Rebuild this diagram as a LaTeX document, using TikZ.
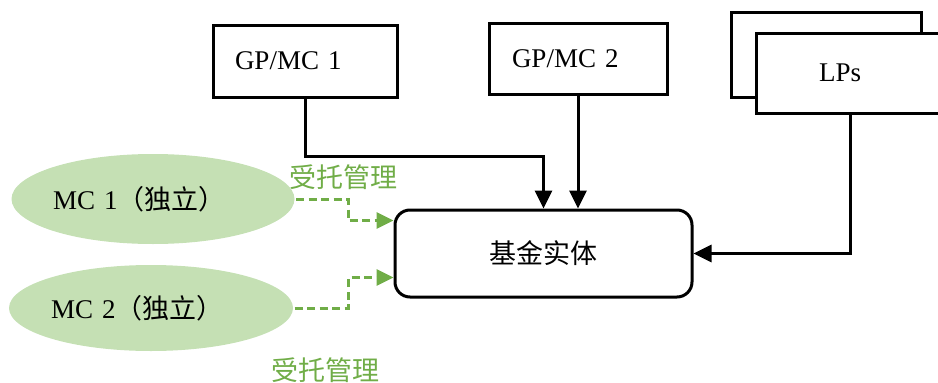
\documentclass[tikz,border=0pt]{standalone}
\usepackage{fontspec}
\setmainfont{Liberation Serif}
\newfontfamily\cjk{Noto Sans CJK SC}
\usetikzlibrary{arrows.meta,calc,shapes.geometric}
\definecolor{lgreen}{HTML}{C5E0B4}
\definecolor{dgreen}{HTML}{70AD47}
\begin{document}
\begin{tikzpicture}[x=1pt,y=-1pt,line width=3pt,
  every node/.style={font=\fontsize{27}{31}\selectfont},
  box/.style={draw,fill=white,line width=3pt,align=left,inner ysep=0pt},
  ell/.style={ellipse,fill=lgreen,draw=none,inner sep=0pt,text width=200pt,align=left},
  arr/.style={-{Triangle[length=18pt,width=17pt]},line width=3pt},
  garr/.style={-{Triangle[length=17pt,width=16pt]},draw=dgreen,line width=3pt,dash pattern=on 8pt off 4.5pt},
  glabel/.style={text=dgreen}]
\useasboundingbox (0,0) rectangle (938,383);
\node[box,minimum width=184pt,minimum height=72pt,text width=140pt,inner xsep=22pt] (gp1) at (305,61) {GP/MC 1};
\node[box,minimum width=178pt,minimum height=71pt,text width=132pt,inner xsep=23pt] (gp2) at (578,58.5) {GP/MC 2};
\node[box,minimum width=190pt,minimum height=85pt] (lpb) at (826,54.5) {};
\node[box,minimum width=200pt,minimum height=80pt,text width=74pt,inner xsep=63pt] (lpf) at (856,73) {LPs};
\node[draw,rounded corners=15pt,minimum width=297pt,minimum height=87pt,line width=3pt] (fund) at (543.5,253.5) {\cjk 基金实体};
\node[ell,minimum width=283pt,minimum height=90pt] (mc1) at (153,199) {MC 1\cjk（独立）};
\node[ell,minimum width=284pt,minimum height=86pt] (mc2) at (151,308) {MC 2\cjk（独立）};
\node[glabel] (l1) at (343,177) {\cjk 受托管理};
\node[glabel] (l2) at (325,370) {\cjk 受托管理};
\draw[arr] (gp1.south) -- ++(0,58) -| (fund.north);
\draw[arr] (gp2.south) -- (gp2.south |- fund.north);
\draw[arr] ($(lpf.south west)+(96,0)$) |- (fund.east);
\draw[garr] (mc1.east) -- ++(52,0) |- ($(fund.west)+(0,-33)$);
\draw[garr] (mc2.east) -- ++(54,0) |- ($(fund.west)+(0,24)$);
\end{tikzpicture}
\end{document}
